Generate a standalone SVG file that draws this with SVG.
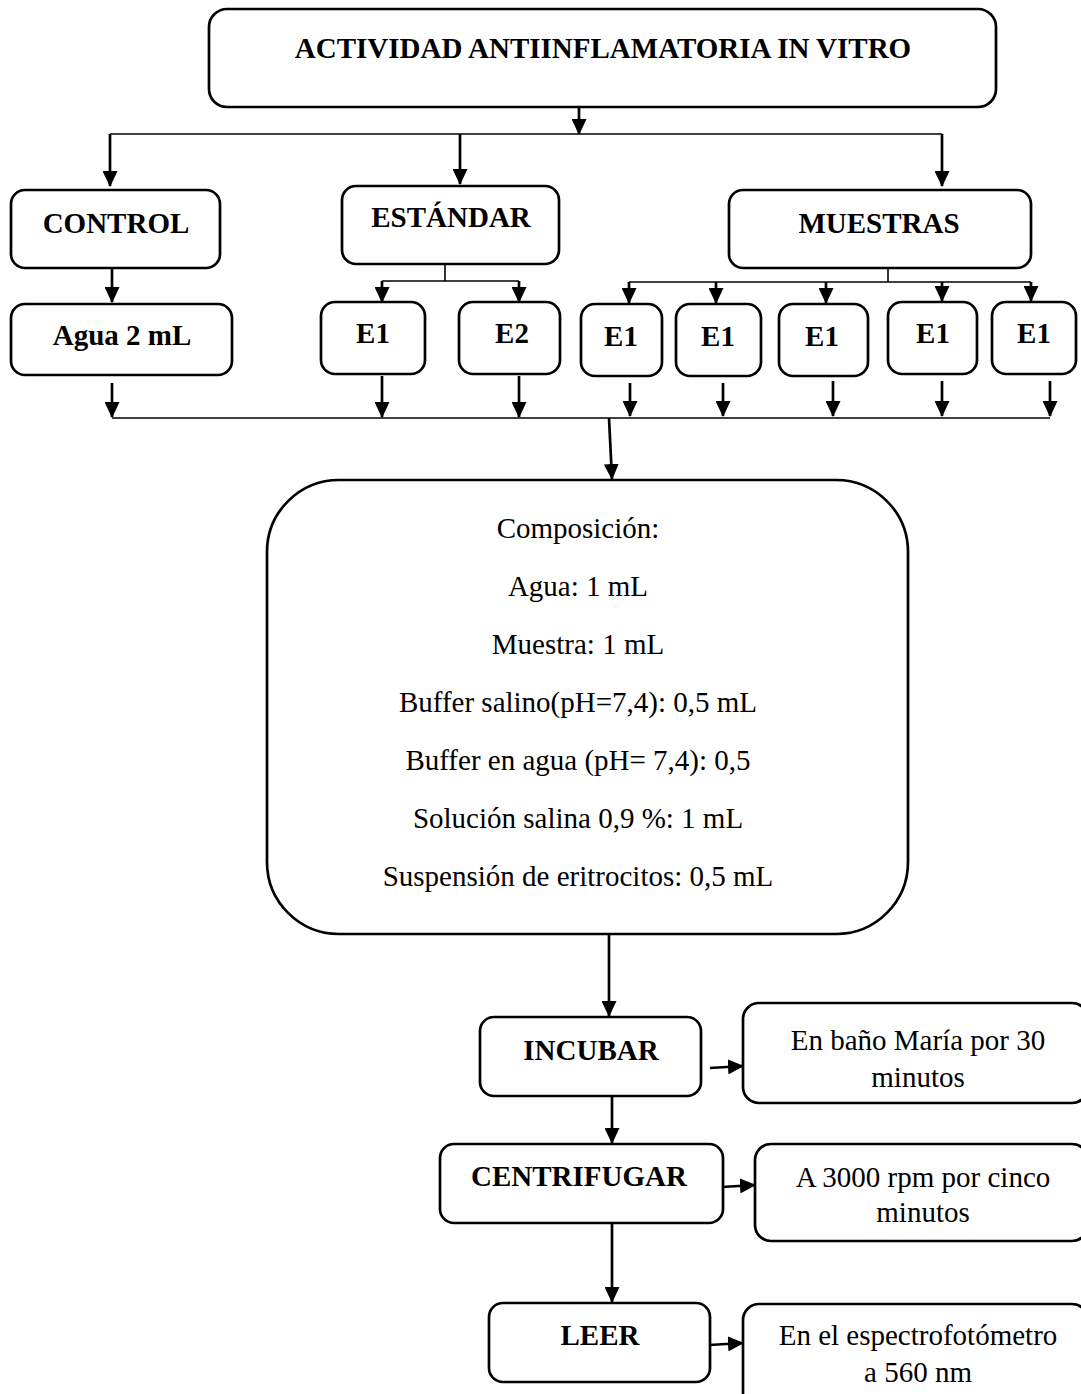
<svg xmlns="http://www.w3.org/2000/svg" width="1081" height="1394" viewBox="0 0 1081 1394">
  <style>
    .box { fill: #ffffff; stroke: #000000; stroke-width: 2.7; }
    .bus { fill: none; stroke: #000000; stroke-width: 1.6; }
    .arr { fill: none; stroke: #000000; stroke-width: 2.7; marker-end: url(#ah); }
    .b { font-family: "Liberation Serif", "Times New Roman", serif; font-weight: bold; font-size: 29px; fill: #000000; text-anchor: middle; }
    .r { font-family: "Liberation Serif", "Times New Roman", serif; font-size: 29px; fill: #000000; text-anchor: middle; }
  </style>
  <defs>
    <marker id="ah" viewBox="0 0 16 15" refX="15" refY="7.5" markerWidth="16" markerHeight="15" orient="auto" markerUnits="userSpaceOnUse">
      <path d="M0,0 L16,7.5 L0,15 z" fill="#000000"/>
    </marker>
  </defs>
  <rect width="1081" height="1394" fill="#ffffff"/>

  <!-- connectors -->
  <g id="connectors">
    <!-- title to first level -->
    <line class="arr" x1="579" y1="107" x2="579" y2="134"/>
    <line class="bus" x1="110" y1="134" x2="942" y2="134"/>
    <line class="arr" x1="110" y1="134" x2="110" y2="186"/>
    <line class="arr" x1="460" y1="134" x2="460" y2="184"/>
    <line class="arr" x1="942" y1="134" x2="942" y2="186"/>
    <!-- control branch -->
    <line class="arr" x1="112" y1="268" x2="112" y2="302"/>
    <!-- standard branch -->
    <line class="bus" x1="445" y1="264" x2="445" y2="281"/>
    <line class="bus" x1="382" y1="281" x2="519" y2="281"/>
    <line class="arr" x1="382" y1="281" x2="382" y2="302"/>
    <line class="arr" x1="519" y1="281" x2="519" y2="302"/>
    <!-- samples branch -->
    <line class="bus" x1="888" y1="268" x2="888" y2="282"/>
    <line class="bus" x1="629" y1="282" x2="1031" y2="282"/>
    <line class="arr" x1="629" y1="282" x2="629" y2="303"/>
    <line class="arr" x1="716" y1="282" x2="716" y2="303"/>
    <line class="arr" x1="826" y1="282" x2="826" y2="303"/>
    <line class="arr" x1="942" y1="282" x2="942" y2="301"/>
    <line class="arr" x1="1031" y1="282" x2="1031" y2="301"/>
    <!-- collectors into the composition -->
    <line class="arr" x1="112" y1="383" x2="112" y2="417"/>
    <line class="arr" x1="382" y1="376" x2="382" y2="417"/>
    <line class="arr" x1="519" y1="376" x2="519" y2="417"/>
    <line class="arr" x1="630" y1="383" x2="630" y2="416"/>
    <line class="arr" x1="723" y1="383" x2="723" y2="416"/>
    <line class="arr" x1="833" y1="381" x2="833" y2="416"/>
    <line class="arr" x1="942" y1="381" x2="942" y2="416"/>
    <line class="arr" x1="1050" y1="381" x2="1050" y2="416"/>
    <line class="bus" x1="112" y1="418" x2="1050" y2="418"/>
    <line class="arr" x1="609" y1="418" x2="612" y2="479"/>
    <!-- process steps -->
    <line class="arr" x1="609" y1="934" x2="609" y2="1016"/>
    <line class="arr" x1="612" y1="1096" x2="612" y2="1143"/>
    <line class="arr" x1="612" y1="1223" x2="612" y2="1302"/>
    <line class="arr" x1="710" y1="1068" x2="743" y2="1066"/>
    <line class="arr" x1="722" y1="1187" x2="755" y2="1185"/>
    <line class="arr" x1="709" y1="1345" x2="743" y2="1343"/>
  </g>

  <!-- title -->
  <g id="title">
    <rect class="box" x="209" y="9" width="787" height="98" rx="18"/>
    <text class="b" x="603" y="58">ACTIVIDAD ANTIINFLAMATORIA IN VITRO</text>
  </g>

  <!-- first level -->
  <g id="control">
    <rect class="box" x="11" y="190" width="209" height="78" rx="14"/>
    <text class="b" x="116" y="233">CONTROL</text>
  </g>
  <g id="estandar">
    <rect class="box" x="342" y="186" width="217" height="78" rx="14"/>
    <text class="b" x="451" y="227">ESTÁNDAR</text>
  </g>
  <g id="muestras">
    <rect class="box" x="729" y="190" width="302" height="78" rx="14"/>
    <text class="b" x="879" y="233">MUESTRAS</text>
  </g>

  <!-- second level -->
  <g id="agua">
    <rect class="box" x="11" y="304" width="221" height="71" rx="14"/>
    <text class="b" x="122" y="345">Agua 2 mL</text>
  </g>
  <g id="std-e1">
    <rect class="box" x="321" y="302" width="104" height="72" rx="14"/>
    <text class="b" x="373" y="343">E1</text>
  </g>
  <g id="std-e2">
    <rect class="box" x="459" y="302" width="101" height="72" rx="14"/>
    <text class="b" x="512" y="343">E2</text>
  </g>
  <g id="m-e1-a">
    <rect class="box" x="581" y="304" width="81" height="72" rx="14"/>
    <text class="b" x="621" y="346">E1</text>
  </g>
  <g id="m-e1-b">
    <rect class="box" x="676" y="304" width="85" height="72" rx="14"/>
    <text class="b" x="718" y="346">E1</text>
  </g>
  <g id="m-e1-c">
    <rect class="box" x="779" y="304" width="89" height="72" rx="14"/>
    <text class="b" x="822" y="346">E1</text>
  </g>
  <g id="m-e1-d">
    <rect class="box" x="888" y="302" width="89" height="72" rx="14"/>
    <text class="b" x="933" y="343">E1</text>
  </g>
  <g id="m-e1-e">
    <rect class="box" x="992" y="302" width="84" height="72" rx="14"/>
    <text class="b" x="1034" y="343">E1</text>
  </g>

  <!-- composition -->
  <g id="composicion">
    <rect class="box" x="267" y="480" width="641" height="454" rx="72"/>
    <text class="r" x="578" y="538">Composición:</text>
    <text class="r" x="578" y="596">Agua: 1 mL</text>
    <text class="r" x="578" y="654">Muestra: 1 mL</text>
    <text class="r" x="578" y="712">Buffer salino(pH=7,4): 0,5 mL</text>
    <text class="r" x="578" y="770">Buffer en agua (pH= 7,4): 0,5</text>
    <text class="r" x="578" y="828">Solución salina 0,9 %: 1 mL</text>
    <text class="r" x="578" y="886">Suspensión de eritrocitos: 0,5 mL</text>
  </g>

  <!-- process steps -->
  <g id="incubar">
    <rect class="box" x="480" y="1017" width="221" height="79" rx="14"/>
    <text class="b" x="591" y="1060">INCUBAR</text>
  </g>
  <g id="incubar-nota">
    <rect class="box" x="743" y="1003" width="345" height="100" rx="16"/>
    <text class="r" x="918" y="1050">En baño María por 30</text>
    <text class="r" x="918" y="1087">minutos</text>
  </g>
  <g id="centrifugar">
    <rect class="box" x="440" y="1144" width="283" height="79" rx="14"/>
    <text class="b" x="579" y="1186">CENTRIFUGAR</text>
  </g>
  <g id="centrifugar-nota">
    <rect class="box" x="755" y="1144" width="333" height="97" rx="16"/>
    <text class="r" x="923" y="1187">A 3000 rpm por cinco</text>
    <text class="r" x="923" y="1222">minutos</text>
  </g>
  <g id="leer">
    <rect class="box" x="489" y="1303" width="221" height="79" rx="14"/>
    <text class="b" x="600" y="1345">LEER</text>
  </g>
  <g id="leer-nota">
    <rect class="box" x="743" y="1304" width="345" height="110" rx="16"/>
    <text class="r" x="918" y="1345">En el espectrofotómetro</text>
    <text class="r" x="918" y="1382">a 560 nm</text>
  </g>
</svg>
